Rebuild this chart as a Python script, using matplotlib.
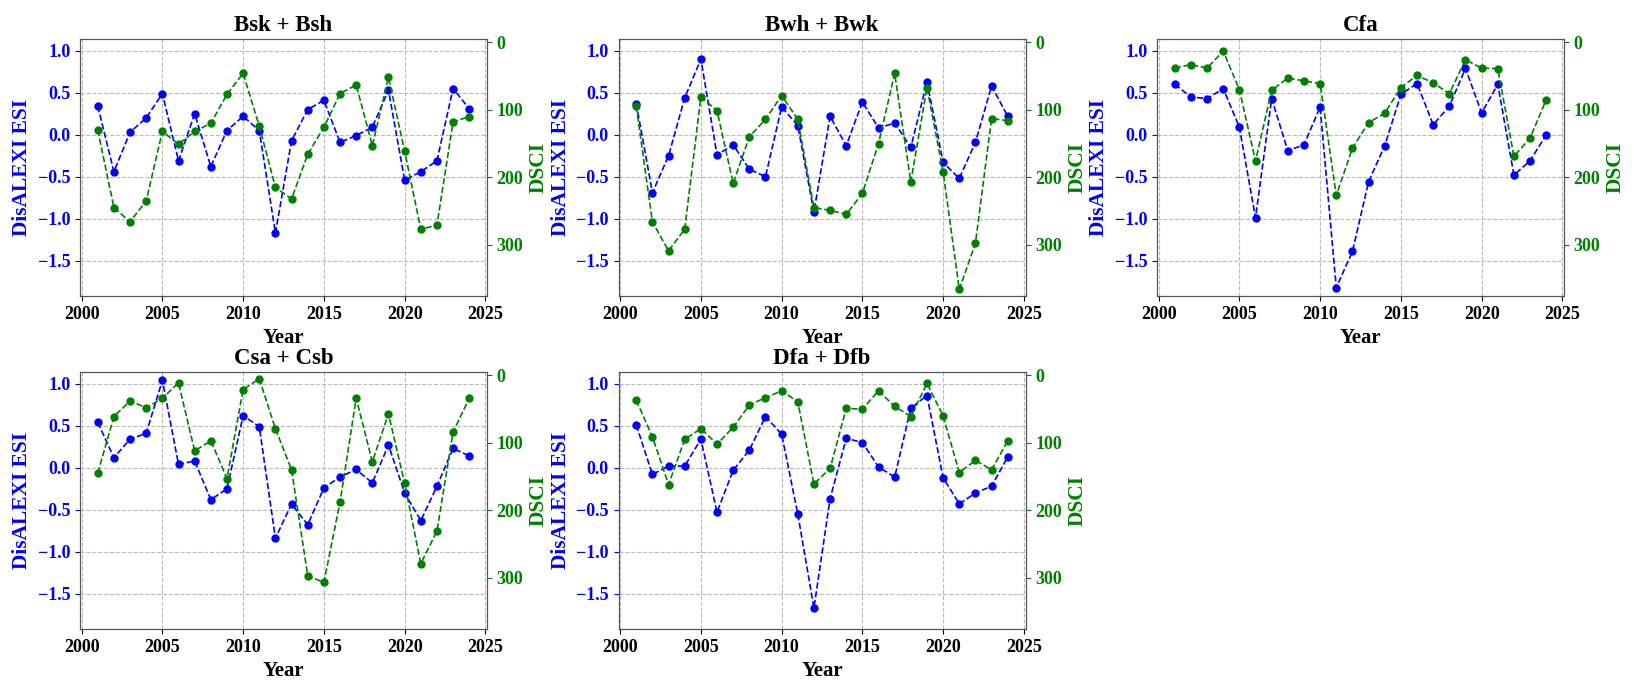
import matplotlib
matplotlib.use("Agg")
import matplotlib.pyplot as plt
import numpy as np

plt.rcParams['font.family'] = ['Liberation Serif', 'DejaVu Serif']
plt.rcParams['font.weight'] = 'bold'

years = list(range(2001, 2025))

regions = ["Bsk + Bsh", "Bwh + Bwk", "Cfa", "Csa + Csb", "Dfa + Dfb"]

esi_bsk = [0.34, -0.44, 0.03, 0.20, 0.49, -0.31, 0.25, -0.38, 0.05, 0.22, 0.05, -1.17,
           -0.07, 0.30, 0.41, -0.09, -0.01, 0.09, 0.53, -0.54, -0.44, -0.31, 0.55, 0.31]
dsci_bsk = [130, 245, 266, 235, 132, 151, 132, 120, 77, 46, 124, 215,
            232, 166, 126, 76, 63, 153, 52, 161, 277, 271, 118, 110]

esi_bwh = [0.37, -0.69, -0.25, 0.44, 0.90, -0.24, -0.12, -0.41, -0.50, 0.33, 0.11, -0.92,
           0.22, -0.13, 0.39, 0.08, 0.14, -0.15, 0.63, -0.33, -0.52, -0.09, 0.58, 0.22]
dsci_bwh = [95, 266, 309, 277, 81, 101, 209, 140, 114, 79, 114, 245,
            249, 255, 224, 150, 46, 207, 67, 192, 366, 298, 113, 116]

esi_cfa = [0.60, 0.45, 0.43, 0.55, 0.09, -0.99, 0.43, -0.19, -0.12, 0.33, -1.82, -1.39,
           -0.56, -0.13, 0.48, 0.61, 0.12, 0.34, 0.79, 0.26, 0.60, -0.48, -0.31, 0.00]
dsci_cfa = [38, 33, 38, 13, 70, 176, 71, 53, 57, 61, 227, 157,
            119, 105, 67, 49, 60, 76, 26, 38, 39, 169, 142, 85]

esi_csa = [0.54, 0.12, 0.34, 0.41, 1.04, 0.04, 0.08, -0.38, -0.25, 0.62, 0.49, -0.84,
           -0.43, -0.68, -0.24, -0.11, -0.02, -0.18, 0.27, -0.30, -0.63, -0.22, 0.23, 0.14]
dsci_csa = [145, 61, 38, 48, 34, 11, 112, 97, 153, 21, 5, 79,
            140, 297, 307, 188, 34, 128, 57, 160, 279, 231, 84, 34]

esi_dfa = [0.51, -0.08, 0.02, 0.02, 0.34, -0.53, -0.03, 0.21, 0.61, 0.40, -0.55, -1.67,
           -0.37, 0.35, 0.30, 0.01, -0.11, 0.71, 0.86, -0.12, -0.43, -0.30, -0.22, 0.13]
dsci_dfa = [37, 91, 162, 95, 79, 102, 77, 44, 33, 23, 39, 161,
            138, 49, 50, 23, 46, 61, 12, 60, 144, 126, 140, 97]

esi_all = [esi_bsk, esi_bwh, esi_cfa, esi_csa, esi_dfa]
dsci_all = [dsci_bsk, dsci_bwh, dsci_cfa, dsci_csa, dsci_dfa]

W, H = 1634, 688
fig = plt.figure(figsize=(W / 100, H / 100), dpi=100)

# axes boxes in pixels: left, top (all 407 x 257)
lefts = [80, 618.5, 1157, 80, 618.5]
tops = [39, 39, 39, 372, 372]
aw, ah = 407, 257

spine_col = '#555555'

for i, name in enumerate(regions):
    l, t = lefts[i], tops[i]
    ax1 = fig.add_axes([l / W, (H - t - ah) / H, aw / W, ah / H])
    ax1.plot(years, esi_all[i], color='blue', linestyle='--', marker='o',
             markersize=5, linewidth=1.2)
    ax1.set_xlim(1999.9, 2025.1)
    ax1.set_ylim(-1.92, 1.14)
    ax1.set_xticks([2000, 2005, 2010, 2015, 2020, 2025])
    ax1.set_yticks([-1.5, -1.0, -0.5, 0.0, 0.5, 1.0])
    ax1.set_ylabel('DisALEXI ESI', color='blue', fontsize=15.5, fontweight='bold')
    ax1.set_xlabel('Year', fontsize=15, fontweight='bold')
    ax1.set_title(name, fontsize=16.5, fontweight='bold')
    ax1.tick_params(axis='y', colors='blue', labelsize=13)
    ax1.tick_params(axis='x', labelsize=13)
    ax1.grid(True, linestyle='--', color='#bbbbbb', linewidth=0.8)

    ax2 = ax1.twinx()
    ax2.plot(years, dsci_all[i], color='green', linestyle='--', marker='o',
             markersize=5, linewidth=1.2)
    ax2.set_ylim(376, -5)
    ax2.set_yticks([0, 100, 200, 300])
    ax2.set_ylabel('DSCI', color='green', fontsize=15.5, fontweight='bold')
    ax2.tick_params(axis='y', colors='green', labelsize=13)

    for ax in (ax1, ax2):
        for s in ax.spines.values():
            s.set_color(spine_col)
    for lab in ax1.get_xticklabels() + ax1.get_yticklabels() + ax2.get_yticklabels():
        lab.set_fontweight('bold')

fig.savefig('out.png', dpi=100)
